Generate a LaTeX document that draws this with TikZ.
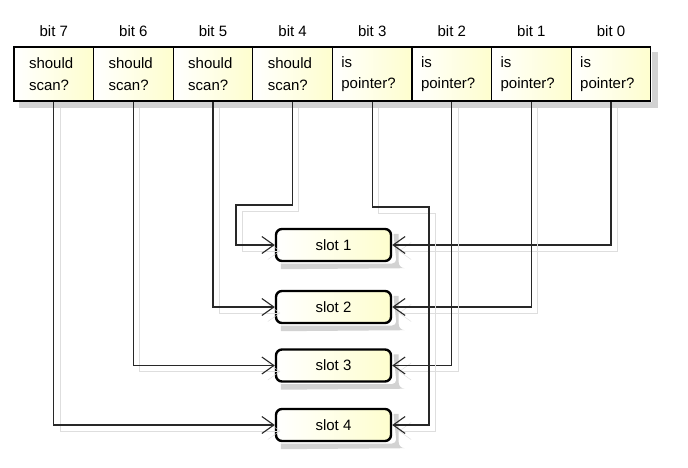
\documentclass[tikz,border=0pt]{standalone}
\usepackage{fontspec}
\setmainfont{Liberation Sans}
\usetikzlibrary{arrows.meta}
\definecolor{ylw}{RGB}{254,254,206}
\definecolor{lnc}{RGB}{40,40,40}
\definecolor{boxshd}{RGB}{210,210,210}
\definecolor{lshd}{RGB}{222,222,222}
\tikzset{
  cell/.style={draw=black, line width=1.1pt, left color=white, right color=ylw,
    minimum width=79.6pt, minimum height=54pt, align=left, inner ysep=0pt,
    font=\fontsize{15}{21.5}\selectfont},
  scancell/.style={cell, inner xsep=15pt, text width=49.6pt},
  ptrcell/.style={cell, inner xsep=9pt, text width=61.6pt},
  bitlabel/.style={font=\fontsize{15}{18}\selectfont, inner sep=0pt},
  slot/.style={draw=black, line width=2.4pt, rounded corners=6pt, left color=white, right color=ylw,
    minimum width=115pt, minimum height=32pt, font=\fontsize{15}{18}\selectfont},
  boxshadow/.style={fill=boxshd, draw=none},
  stripshadow/.style={draw=boxshd, line width=6.2pt, line cap=butt},
  conn/.style={draw=lnc, line width=1.1pt, -{Straight Barb[length=12pt,width=17pt]},
    preaction={draw=lshd, transform canvas={shift={(6pt,-6pt)}}}}
}
\begin{document}
\begin{tikzpicture}[x=1pt,y=-1pt]
\fill[white] (0,0) rectangle (688,467);
\useasboundingbox (500,20) rectangle (688,147.6);
% cells
\node[scancell] (b7) at (53.8,74) {should\\scan?};
\node[scancell] (b6) at (133.4,74) {should\\scan?};
\node[scancell] (b5) at (213.0,74) {should\\scan?};
\node[scancell] (b4) at (292.6,74) {should\\scan?};
\node[ptrcell] (b3) at (372.2,74) {is\\pointer?};
\node[ptrcell] (b2) at (451.8,74) {is\\pointer?};
\node[ptrcell] (b1) at (531.4,74) {is\\pointer?};
\node[ptrcell] (b0) at (611.0,74) {is\\pointer?};
% bit labels
\node[bitlabel] (l7) at (53.8,31) {bit 7};
\node[bitlabel] (l6) at (133.4,31) {bit 6};
\node[bitlabel] (l5) at (213.0,31) {bit 5};
\node[bitlabel] (l4) at (292.6,31) {bit 4};
\node[bitlabel] (l3) at (372.2,31) {bit 3};
\node[bitlabel] (l2) at (451.8,31) {bit 2};
\node[bitlabel] (l1) at (531.4,31) {bit 1};
\node[bitlabel] (l0) at (611.0,31) {bit 0};
% slots
\node[slot] (s1) at (333.5,245) {slot 1};
\node[slot] (s2) at (333.5,307) {slot 2};
\node[slot] (s3) at (333.5,365.5) {slot 3};
\node[slot] (s4) at (333.5,425) {slot 4};
% cell shadow strips
\draw[stripshadow] ([shift={(6,3.8)}]b7.south west) -- ([shift={(3.7,3.8)}]b0.south east)
   -- ([shift={(3.7,6)}]b0.north east);
% slot shadows
\foreach \s in {s1,s2,s3,s4}{
  \fill[boxshadow] ([shift={(6,1.3)}]\s.south west) -- ([shift={(0,1.3)}]\s.south east)
     arc[start angle=-90, end angle=0, radius=4pt] -- ([shift={(1.3,6)}]\s.north east)
     -- ([shift={(6.5,6)}]\s.north east) -- ([shift={(6.5,0)}]\s.south east)
     arc[start angle=0, end angle=90, radius=-6pt] -- ([shift={(6,7)}]\s.south west) -- cycle;
}
% bend points
\coordinate (k4) at (236,205);
\coordinate (k3) at (429,207);
% connectors
\draw[conn] (b4.south) |- (k4) |- (s1.west);
\draw[conn] (b0.south) |- (s1.east);
\draw[conn] (b5.south) |- (s2.west);
\draw[conn] (b1.south) |- (s2.east);
\draw[conn] (b6.south) |- (s3.west);
\draw[conn] (b2.south) |- (s3.east);
\draw[conn] (b7.south) |- (s4.west);
\draw[conn] (b3.south) |- (k3) |- (s4.east);
\end{tikzpicture}
\end{document}
